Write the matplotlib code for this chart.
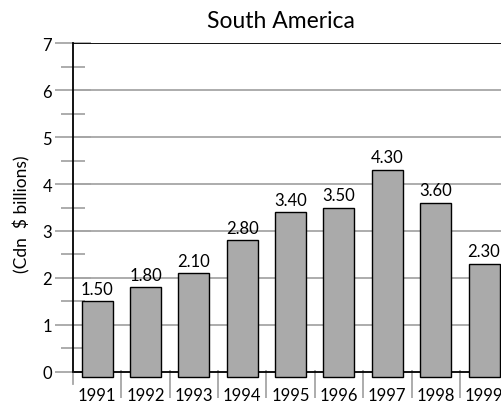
import matplotlib.pyplot as plt
from matplotlib.ticker import MultipleLocator

plt.rcParams['font.family'] = ['Lato', 'DejaVu Sans']

# data
years = ['1991', '1992', '1993', '1994', '1995', '1996', '1997', '1998', '1999']
values = [1.50, 1.80, 2.10, 2.80, 3.40, 3.50, 4.30, 3.60, 2.30]

GRID = '#a6a6a6'
BAR = '#aaaaaa'

fig = plt.figure(figsize=(5.02, 4.06), dpi=100)
ax = fig.add_axes([0.1454, 0.0813 - 0.25 * 0.8103 / 7.0, 0.867, 0.8103 * 7.25 / 7.0])

x = list(range(len(years)))
ax.set_xlim(-0.5, len(years) - 0.5)
ax.set_ylim(-0.25, 7)

# horizontal gridlines
for yv in range(1, 7):
    ax.axhline(yv, color=GRID, lw=1.3, zorder=1)

# bars start just under the zero line
base = -0.1
ax.bar(x, [v - base for v in values], bottom=base, width=0.64,
       color=BAR, edgecolor='black', linewidth=1.0, zorder=3)
for xi, v in zip(x, values):
    ax.text(xi, v + 0.1, f'{v:.2f}', ha='center', va='bottom', fontsize=12, zorder=4)

ax.axhline(0, color='black', lw=1.3, zorder=2)
ax.axhline(7, color='black', lw=1.3, zorder=2)

# spines
for s in ['top', 'right', 'bottom']:
    ax.spines[s].set_visible(False)
ax.spines['left'].set_color('black')
ax.spines['left'].set_linewidth(1.3)
ax.spines['left'].set_bounds(0, 7)
ax.plot([-0.5, -0.5], [-0.25, 0], color=GRID, lw=1.3, clip_on=False, zorder=2)

# y ticks
ax.yaxis.set_major_locator(MultipleLocator(1))
ax.yaxis.set_minor_locator(MultipleLocator(0.5))
ax.set_yticks(range(0, 8))
ax.set_yticklabels([str(i) for i in range(0, 8)], fontsize=12)
ax.tick_params(axis='y', which='major', direction='inout', length=26, width=1.3,
               color=GRID, pad=2)
ax.tick_params(axis='y', which='minor', direction='inout', length=17, width=1.3,
               color=GRID)

# x ticks: labels under bars, gray marks between them
ax.set_xticks(x)
ax.set_xticklabels(years, fontsize=12)
ax.tick_params(axis='x', which='major', length=0, pad=2)
ax.set_xticks([i + 0.5 for i in x[:-1]], minor=True)
ax.tick_params(axis='x', which='minor', direction='inout', length=20, width=1.3,
               color=GRID)
ax.xaxis.set_ticks_position('bottom')

ax.set_ylabel('(Cdn  $ billions)', fontsize=12.5, labelpad=9)
fig.text(0.56, 0.948, 'South America', ha='center', va='center', fontsize=16.5)

fig.savefig('out.png', dpi=100)
